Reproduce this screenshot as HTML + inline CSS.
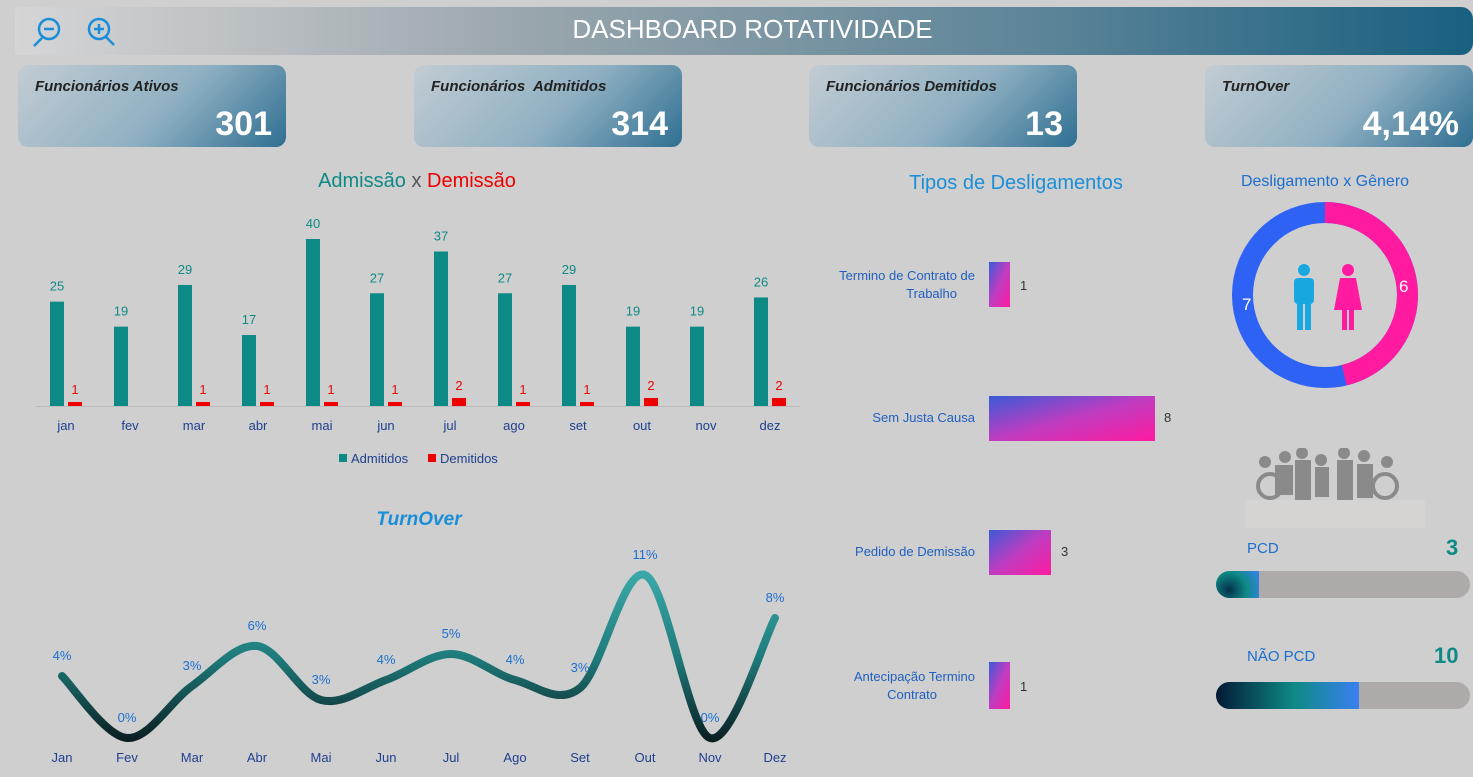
<!DOCTYPE html>
<html><head><meta charset="utf-8"><style>
body{margin:0;width:1473px;height:777px;background:#d0cfd0;font-family:"Liberation Sans",sans-serif;overflow:hidden;position:relative}
.abs{position:absolute}
.card{position:absolute;top:65px;width:268px;height:82px;border-radius:10px;background:linear-gradient(135deg,#c3ccd3 0%,#8fb0c2 55%,#2f6f92 100%);overflow:hidden}
.card .t{position:absolute;left:17px;top:13px;font-style:italic;font-weight:bold;font-size:15px;color:#222}
.card .v{position:absolute;right:14px;top:40px;font-weight:bold;font-size:34px;color:#fff}
</style></head><body>
<div class="abs" style="left:15px;top:7px;width:1458px;height:48px;background:linear-gradient(90deg,#d5d5d6 0%,#9aa6ad 35%,#5d8598 70%,#195f80 100%);border-radius:4px 12px 12px 4px"></div>
<div class="abs" style="left:0;width:1473px;top:14px;text-align:center;font-size:26px;color:#fff;padding-left:16px">DASHBOARD ROTATIVIDADE</div>
<svg class="abs" style="left:30px;top:14px" width="95" height="36"><g fill="none" stroke="#1a8fd8" stroke-width="2.5"><circle cx="19" cy="15" r="10"/><path d="M12 24 L4 32"/><path d="M14 15h10"/><circle cx="69" cy="15" r="10"/><path d="M76 23 L84 31"/><path d="M64 15h10M69 10v10"/></g></svg>
<div class="card" style="left:18px"><div class="t">Funcionários Ativos</div><div class="v">301</div></div>
<div class="card" style="left:414px"><div class="t">Funcionários&nbsp; Admitidos</div><div class="v">314</div></div>
<div class="card" style="left:809px"><div class="t">Funcionários Demitidos</div><div class="v">13</div></div>
<div class="card" style="left:1205px"><div class="t">TurnOver</div><div class="v">4,14%</div></div>

<div class="abs" style="left:0;width:834px;top:170px;text-align:center;font-size:20px;color:#0e8a86">Admissão <span style="color:#555">x</span> <span style="color:#e00">Demissão</span></div>
<svg class="abs" style="left:0;top:200px" width="810" height="280" font-family="Liberation Sans" font-size="13">
<line x1="36" y1="206.5" x2="800" y2="206.5" stroke="#bbb"/>
<g id="bars"></g>
<rect x="339" y="254" width="8" height="8" fill="#0e8a86"/><text x="351" y="263" fill="#1f3f8f">Admitidos</text>
<rect x="428" y="254" width="8" height="8" fill="#e00"/><text x="440" y="263" fill="#1f3f8f">Demitidos</text>
</svg>

<div class="abs" style="left:0;width:838px;top:509px;text-align:center;font-size:19px;font-style:italic;font-weight:bold;color:#1a8fd8">TurnOver</div>
<svg class="abs" style="left:0;top:0" width="820" height="777" font-family="Liberation Sans" font-size="13">
<defs><linearGradient id="lg" x1="0" y1="575" x2="0" y2="740" gradientUnits="userSpaceOnUse"><stop offset="0" stop-color="#3aa8a8"/><stop offset="0.5" stop-color="#1f7b7b"/><stop offset="1" stop-color="#0a1f22"/></linearGradient></defs>
<path id="tl" fill="none" stroke="url(#lg)" stroke-width="8" stroke-linecap="round"/>
<g id="tlab"></g>
</svg>

<div class="abs" style="left:838px;width:356px;top:172px;text-align:center;font-size:20px;color:#1a8fd8">Tipos de Desligamentos</div>
<svg class="abs" style="left:820px;top:240px" width="380" height="500" font-family="Liberation Sans" font-size="13">
<defs><linearGradient id="hg" x1="0" y1="0" x2="1" y2="1"><stop offset="0" stop-color="#3a5bd8"/><stop offset="0.5" stop-color="#c03cc0"/><stop offset="1" stop-color="#ff1aa0"/></linearGradient></defs>
<g fill="#1f5fbf" text-anchor="end"><text x="155" y="40">Termino de Contrato de</text><text x="137" y="58">Trabalho</text>
<text x="155" y="182">Sem Justa Causa</text><text x="155" y="316">Pedido de Demissão</text>
<text x="155" y="441">Antecipação Termino</text><text x="117" y="459">Contrato</text></g>
<rect x="169" y="22" width="21" height="45" fill="url(#hg)"/><rect x="169" y="156" width="166" height="45" fill="url(#hg)"/>
<rect x="169" y="290" width="62" height="45" fill="url(#hg)"/><rect x="169" y="422" width="21" height="47" fill="url(#hg)"/>
<g fill="#333"><text x="200" y="50">1</text><text x="344" y="182">8</text><text x="241" y="316">3</text><text x="200" y="451">1</text></g>
</svg>

<div class="abs" style="left:1180px;width:290px;top:173px;text-align:center;font-size:16px;color:#1a6fcf">Desligamento x Gênero</div>
<svg class="abs" style="left:1220px;top:190px" width="212" height="212">
<g transform="translate(105,105)">
<circle r="82.5" fill="none" stroke="#2e62f5" stroke-width="21"/>
<path d="M0,-82.5 A82.5,82.5 0 0 1 19.3,80.2" fill="none" stroke="#ff1aa0" stroke-width="21"/>
<text x="-83" y="15" fill="#fff" font-size="17" font-family="Liberation Sans">7</text><text x="74" y="101" fill="#fff" font-size="17"></text>
<text x="74" y="0" fill="#fff" font-size="17" font-family="Liberation Sans" dy="-3" transform="translate(0,0)"></text>
</g>
<text x="179" y="102" fill="#fff" font-size="17" font-family="Liberation Sans">6</text>
<g fill="#18a8e0"><circle cx="84" cy="80" r="6"/><rect x="74" y="88" width="20" height="26" rx="4"/><rect x="77" y="108" width="6" height="32"/><rect x="85" y="108" width="6" height="32"/></g>
<g fill="#ff1aa0"><circle cx="128" cy="80" r="6"/><path d="M120 88h16l6 32h-28z"/><rect x="122" y="115" width="5" height="25"/><rect x="129" y="115" width="5" height="25"/></g>
</svg>
<svg class="abs" style="left:1245px;top:448px" width="180" height="80"><g fill="#8a8a8a"><circle cx="20" cy="14" r="6"/><circle cx="40" cy="9" r="6"/><circle cx="57" cy="5" r="6"/><circle cx="76" cy="12" r="6"/><circle cx="99" cy="5" r="6"/><circle cx="119" cy="8" r="6"/><circle cx="142" cy="14" r="6"/>
<rect x="30" y="17" width="18" height="30"/><rect x="50" y="12" width="16" height="40"/><rect x="70" y="19" width="14" height="30"/><rect x="92" y="12" width="16" height="40"/><rect x="112" y="16" width="16" height="34"/></g>
<g fill="none" stroke="#8a8a8a" stroke-width="4"><circle cx="25" cy="38" r="12"/><circle cx="140" cy="38" r="12"/></g>
<rect x="0" y="52" width="180" height="28" fill="#d8d7d4" opacity=".6"/></svg>
<div class="abs" style="left:1247px;top:540px;font-size:15px;color:#1a6fcf">PCD</div>
<div class="abs" style="left:1446px;top:535px;font-size:22px;font-weight:bold;color:#0e8a86">3</div>
<div class="abs" style="left:1216px;top:571px;width:254px;height:27px;border-radius:14px;background:#aeaaa9;overflow:hidden"><div style="width:43px;height:100%;background:radial-gradient(circle at 30% 70%,#04304a,#0e8a86 50%,#3a80f0)"></div></div>
<div class="abs" style="left:1247px;top:648px;font-size:15px;color:#1a6fcf">NÃO PCD</div>
<div class="abs" style="left:1434px;top:643px;font-size:22px;font-weight:bold;color:#0e8a86">10</div>
<div class="abs" style="left:1216px;top:682px;width:254px;height:27px;border-radius:14px;background:#aeaaa9;overflow:hidden"><div style="width:143px;height:100%;background:linear-gradient(90deg,#021a35,#0e8a86 55%,#3a80f0)"></div></div>

<script>
var A=[25,19,29,17,40,27,37,27,29,19,19,26],D=[1,0,1,1,1,1,2,1,1,2,0,2],M=["jan","fev","mar","abr","mai","jun","jul","ago","set","out","nov","dez"];
var s="";for(var i=0;i<12;i++){var x=50+64*i,h=A[i]*4.175;s+='<rect x="'+x+'" y="'+(206-h)+'" width="14" height="'+h+'" fill="#0e8a86"/><text x="'+(x+7)+'" y="'+(206-h-11)+'" text-anchor="middle" fill="#0e8a86">'+A[i]+'</text>';
if(D[i]){var hd=D[i]*4;s+='<rect x="'+(x+18)+'" y="'+(206-hd)+'" width="14" height="'+hd+'" fill="#e00"/><text x="'+(x+25)+'" y="'+(206-hd-8)+'" text-anchor="middle" fill="#e00">'+D[i]+'</text>';}
s+='<text x="'+(x+16)+'" y="230" text-anchor="middle" fill="#1f3f8f">'+M[i]+'</text>';}
document.getElementById("bars").innerHTML=s;
var P=[[62,676],[127,738],[192,686],[257,646],[321,700],[386,680],[451,654],[515,680],[580,688],[645,575],[710,738],[775,618]],L=["4%","0%","3%","6%","3%","4%","5%","4%","3%","11%","0%","8%"],N=["Jan","Fev","Mar","Abr","Mai","Jun","Jul","Ago","Set","Out","Nov","Dez"];
var d="M"+P[0];for(var i=0;i<11;i++){var p0=P[Math.max(i-1,0)],p1=P[i],p2=P[i+1],p3=P[Math.min(i+2,11)];
d+=" C"+(p1[0]+(p2[0]-p0[0])/6)+","+(p1[1]+(p2[1]-p0[1])/6)+" "+(p2[0]-(p3[0]-p1[0])/6)+","+(p2[1]-(p3[1]-p1[1])/6)+" "+p2;}
document.getElementById("tl").setAttribute("d",d);
var t="";for(var i=0;i<12;i++){t+='<text x="'+P[i][0]+'" y="'+(P[i][1]-16)+'" text-anchor="middle" fill="#1a6fcf">'+L[i]+'</text><text x="'+P[i][0]+'" y="762" text-anchor="middle" fill="#1f3f8f">'+N[i]+'</text>';}
document.getElementById("tlab").innerHTML=t;
</script>
</body></html>
